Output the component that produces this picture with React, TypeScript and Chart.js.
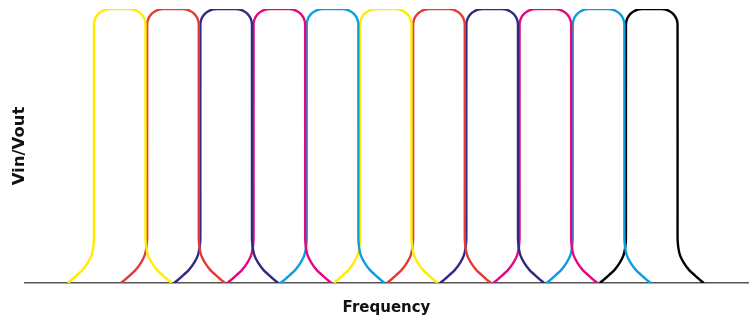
import React, { useEffect, useRef } from "react";
import { Chart, registerables } from "chart.js";

Chart.register(...registerables);

// Centre frequency (filter index) of each band-pass filter
const filterCenters = [1, 2, 3, 4, 5, 6, 7, 8, 9, 10, 11];
const filterColors = [
  "#FFED00",
  "#E63B35",
  "#302A83",
  "#E5077E",
  "#0A9FE0",
  "#FFED00",
  "#E63B35",
  "#302A83",
  "#E5077E",
  "#0A9FE0",
  "#000000",
];
// Response profile of one filter: frequency offset from its centre, and Vin/Vout (%)
const profileOffsets = [
  -0.975, -0.82, -0.7, -0.6, -0.53, -0.5, -0.488, -0.485,
  -0.485, -0.475, -0.445, -0.397, -0.335, -0.262, -0.184,
  0.184, 0.262, 0.335, 0.397, 0.445, 0.475, 0.485,
  0.485, 0.488, 0.5, 0.53, 0.6, 0.7, 0.82, 0.975,
];
const profileGain = [
  0, 2.6, 4.8, 7.4, 10.2, 12.8, 15.2, 17,
  94.2, 95.7, 97.1, 98.3, 99.2, 99.8, 100,
  100, 99.8, 99.2, 98.3, 97.1, 95.7, 94.2,
  17, 15.2, 12.8, 10.2, 7.4, 4.8, 2.6, 0,
];
const xAxisTitle = "Frequency";
const yAxisTitle = "Vin/Vout";

export default function App() {
  const ref = useRef<HTMLCanvasElement | null>(null);

  useEffect(() => {
    document.body.style.margin = "0";
    if (!ref.current) return;
    const datasets = filterCenters.map((c, i) => ({
      label: `Filter ${i + 1}`,
      data: profileOffsets.map((o, k) => ({ x: c + o, y: profileGain[k] })),
      borderColor: filterColors[i],
      backgroundColor: filterColors[i],
      borderWidth: 2.4,
      pointRadius: 0,
      tension: 0.2,
      fill: false,
    }));
    const chart = new Chart(ref.current, {
      type: "line",
      data: { datasets },
      options: {
        animation: false,
        responsive: false,
        maintainAspectRatio: false,
        layout: { padding: { top: 9, right: 4, left: 0, bottom: 0 } },
        plugins: {
          legend: { display: false },
          tooltip: { enabled: false },
        },
        scales: {
          x: {
            type: "linear",
            min: -0.781,
            max: 12.809,
            grid: { display: false, drawTicks: false },
            ticks: { display: false },
            border: { display: true, color: "#555555", width: 1.5 },
            title: {
              display: true,
              text: xAxisTitle,
              color: "#111111",
              font: { family: "'DejaVu Sans', sans-serif", size: 15, weight: "bold" },
              padding: { top: 0, bottom: 2.5 },
            },
            afterFit: (scale: any) => {
              scale.height = 37;
            },
          },
          y: {
            type: "linear",
            min: 0,
            max: 100,
            grid: { display: false, drawTicks: false },
            ticks: { display: false },
            border: { display: false },
            title: {
              display: true,
              text: yAxisTitle,
              color: "#111111",
              font: { family: "'DejaVu Sans', sans-serif", size: 16.5, weight: "bold" },
              padding: { top: 10, bottom: 0 },
            },
            afterFit: (scale: any) => {
              scale.width = 25;
            },
          },
        },
      },
    });
    return () => chart.destroy();
  }, []);

  return (
    <div style={{ width: 752, height: 320 }}>
      <canvas ref={ref} width={752} height={320} style={{ display: "block" }} />
    </div>
  );
}
